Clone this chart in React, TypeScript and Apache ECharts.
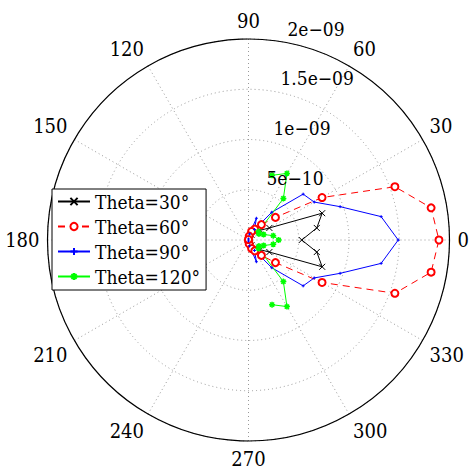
import React, { useEffect, useRef } from "react";
import * as echarts from "echarts";

// Azimuth angles (degrees)
const PHI_A = [-90, -80, -70, -60, -50, -40, -30, -20, -10, 0, 10, 20, 30, 40, 50, 60, 70, 80, 90];
const PHI_G = [-70, -60, -50, -40, -30, -20, -10, 0, 10, 20, 30, 40, 50, 60, 70];

// Series values
const THETA30 = [0, 0.1e-10, 0.3e-10, 0.6e-10, 1.0e-10, 1.5e-10, 2.4e-10, 7.8e-10, 6.9e-10, 5.3e-10, 6.9e-10, 7.8e-10, 2.4e-10, 1.5e-10, 1.0e-10, 0.6e-10, 0.3e-10, 0.1e-10, 0];
const THETA60 = [0.05e-10, 0.4e-10, 0.9e-10, 1.25e-10, 2.0e-10, 3.5e-10, 8.45e-10, 15.5e-10, 18.45e-10, 18.95e-10, 18.45e-10, 15.5e-10, 8.45e-10, 3.5e-10, 2.0e-10, 1.25e-10, 0.9e-10, 0.4e-10, 0.05e-10];
const THETA90 = [0.1e-10, 0.6e-10, 2.3e-10, 1.2e-10, 3.6e-10, 7.1e-10, 7.55e-10, 9.7e-10, 13.4e-10, 14.9e-10, 13.4e-10, 9.7e-10, 7.55e-10, 7.1e-10, 3.6e-10, 1.2e-10, 2.3e-10, 0.6e-10, 0.1e-10];
const THETA120 = [6.85e-10, 7.65e-10, 5.4e-10, 1.3e-10, 1.2e-10, 1.6e-10, 2.5e-10, 3.0e-10, 2.5e-10, 1.6e-10, 1.2e-10, 1.3e-10, 5.4e-10, 7.65e-10, 6.85e-10];

const SERIES_NAMES = ["Theta=30°", "Theta=60°", "Theta=90°", "Theta=120°"];

// Axis ticks
const R_MAX = 2e-9;
const R_INTERVAL = 5e-10;
const RADIAL_TICKS = [5e-10, 1e-9, 1.5e-9, 2e-9];
const RADIAL_LABELS = ["5e\u221210", "1e\u221209", "1.5e\u221209", "2e\u221209"];

const CX = 248.5;
const CY = 240;
const RADIUS = 201;
const FONT = "DejaVu Serif Condensed";

const toPolar = (phis: number[], vals: number[]) =>
  phis.map((p, i) => [vals[i], (p + 360) % 360]);

export default function App() {
  const ref = useRef<HTMLDivElement>(null);

  useEffect(() => {
    if (!ref.current) return;
    const chart = echarts.init(ref.current, null, { renderer: "svg" });

    const labAng = (82 * Math.PI) / 180;
    const radialTexts = RADIAL_TICKS.map((v, i) => {
      const r = (v / R_MAX) * RADIUS + 7;
      return {
        type: "text",
        x: CX + r * Math.cos(labAng) + 10,
        y: CY - r * Math.sin(labAng) + 4,
        z: 10,
        style: {
          text: RADIAL_LABELS[i],
          fontSize: 19,
          fontFamily: FONT,
          fill: "#000",
          align: "left",
          verticalAlign: "bottom",
        },
      };
    });

    const xPath = "path://M0,0L10,10M10,0L0,10";
    const starPath = "path://M5,0L5,10M0,5L10,5M1.5,1.5L8.5,8.5M8.5,1.5L1.5,8.5";
    const plusPath = "path://M5,0L5,10M0,5L10,5";

    chart.setOption({
      animation: false,
      backgroundColor: "#fff",
      polar: { center: [CX, CY], radius: RADIUS },
      angleAxis: {
        type: "value",
        min: 0,
        max: 360,
        interval: 30,
        startAngle: 0,
        clockwise: false,
        z: 3,
        axisLine: { show: true, lineStyle: { color: "#000", width: 1.2 } },
        axisTick: { show: false },
        axisLabel: {
          show: true,
          margin: 8,
          color: "#000",
          fontSize: 20,
          fontFamily: FONT,
          formatter: (v: number) => (v === 360 ? "" : String(v)),
        },
        splitLine: { show: true, lineStyle: { color: "#999", type: [1, 3], width: 1 } },
      },
      radiusAxis: {
        type: "value",
        min: 0,
        max: R_MAX,
        interval: R_INTERVAL,
        z: 1,
        axisLine: { show: false },
        axisTick: { show: false },
        axisLabel: { show: false },
        splitLine: { show: true, lineStyle: { color: "#999", type: [1, 3], width: 1 } },
      },
      legend: {
        orient: "vertical",
        left: 52,
        top: 189,
        z: 20,
        backgroundColor: "#fff",
        borderColor: "#000",
        borderWidth: 1,
        borderRadius: 0,
        padding: [3, 6, 4, 5],
        itemGap: 6,
        itemWidth: 32,
        itemHeight: 9,
        selectedMode: false,
        textStyle: { color: "#000", fontSize: 19, fontFamily: FONT },
        data: SERIES_NAMES,
      },
      graphic: radialTexts,
      series: [
        {
          name: SERIES_NAMES[0],
          type: "line",
          coordinateSystem: "polar",
          clip: false,
          data: toPolar(PHI_A, THETA30),
          symbol: xPath,
          symbolSize: 6,
          itemStyle: { color: "#000", borderColor: "#000", borderWidth: 1 },
          lineStyle: { color: "#000", width: 1 },
        },
        {
          name: SERIES_NAMES[1],
          type: "line",
          coordinateSystem: "polar",
          clip: false,
          data: toPolar(PHI_A, THETA60),
          symbol: "emptyCircle",
          symbolSize: 7,
          itemStyle: { color: "#ff0000", borderColor: "#ff0000", borderWidth: 1 },
          lineStyle: { color: "#ff0000", width: 1, type: [7, 5] },
        },
        {
          name: SERIES_NAMES[2],
          type: "line",
          coordinateSystem: "polar",
          clip: false,
          data: toPolar(PHI_A, THETA90),
          symbol: plusPath,
          symbolSize: 3,
          itemStyle: { color: "#0000ff", borderColor: "#0000ff", borderWidth: 1 },
          lineStyle: { color: "#0000ff", width: 1 },
        },
        {
          name: SERIES_NAMES[3],
          type: "line",
          coordinateSystem: "polar",
          clip: false,
          data: toPolar(PHI_G, THETA120),
          symbol: starPath,
          symbolSize: 6,
          itemStyle: { color: "#00ff00", borderColor: "#00ff00", borderWidth: 1.5 },
          lineStyle: { color: "#00ff00", width: 1 },
        },
      ],
    });

    return () => chart.dispose();
  }, []);

  return (
    <div
      ref={ref}
      style={{ position: "fixed", left: 0, top: 0, width: 470, height: 470 }}
    />
  );
}
